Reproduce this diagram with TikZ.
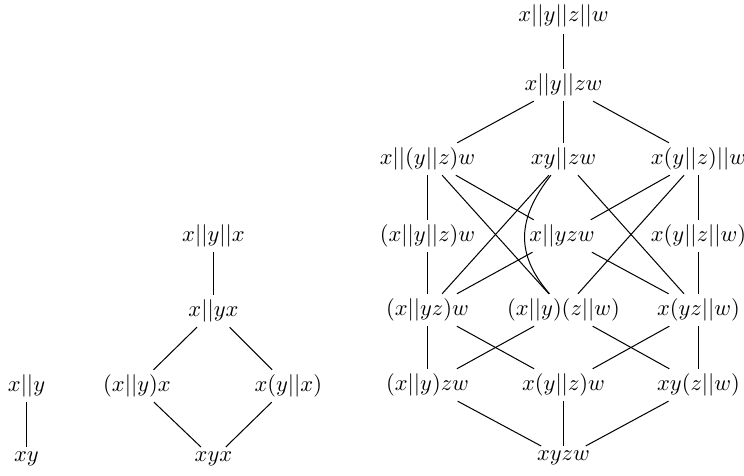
\documentclass[tikz,border=0pt]{standalone}
\usepackage{tikz}
\begin{document}
\begin{tikzpicture}[x=0.4444pt, y=-0.4444pt,
  lbl/.style={inner sep=2pt},
  edge/.style={line width=0.45pt}]
\useasboundingbox (0,0) rectangle (744,476);

% two-letter interval
\node[lbl] (a1) at (26.5,386) {$x||y$};
\node[lbl] (a2) at (26.5,459) {$xy$};
\draw[edge] (a1) -- (a2);

% three-letter word xyx
\node[lbl] (b1) at (213.5,236) {$x||y||x$};
\node[lbl] (b2) at (213.5,311) {$x||yx$};
\node[lbl] (b3) at (137,386) {$(x||y)x$};
\node[lbl] (b4) at (288.3,386) {$x(y||x)$};
\node[lbl] (b5) at (213.5,459) {$xyx$};
\draw[edge] (b1) -- (b2);
\draw[edge] (b2) -- (b3);
\draw[edge] (b2) -- (b4);
\draw[edge] (b3) -- (b5);
\draw[edge] (b4) -- (b5);

% four-letter word xyzw
\node[lbl, inner ysep=0pt] (r1) at (563.5,16) {$x||y||z||w$};
\node[lbl] (r2) at (563.5,85) {$x||y||zw$};
\node[lbl] (r3a) at (427.5,159) {$x||(y||z)w$};
\node[lbl] (r3b) at (563.5,159) {$xy||zw$};
\node[lbl] (r3c) at (698.5,159) {$x(y||z)||w$};
\node[lbl] (r4a) at (427.5,236) {$(x||y||z)w$};
\node[lbl] (r4b) at (562,236) {$x||yzw$};
\node[lbl] (r4c) at (698.5,236) {$x(y||z||w)$};
\node[lbl] (r5a) at (427.5,310) {$(x||yz)w$};
\node[lbl] (r5b) at (563.5,310) {$(x||y)(z||w)$};
\node[lbl] (r5c) at (698.5,310) {$x(yz||w)$};
\node[lbl] (r6a) at (427.5,385) {$(x||y)zw$};
\node[lbl] (r6b) at (563.5,385) {$x(y||z)w$};
\node[lbl] (r6c) at (698.5,385) {$xy(z||w)$};
\node[lbl] (r7) at (563.5,458) {$xyzw$};

\draw[edge, shorten <=3pt] (r1) -- (r2);
\draw[edge] (r2) -- (r3a);
\draw[edge] (r2) -- (r3b);
\draw[edge] (r2) -- (r3c);

\draw[edge] (r3a) -- (r4a);
\draw[edge] (r3a) -- (r4b);
\draw[edge] (r3a) -- (r5b);
\draw[edge] (r3b) -- (r5a);
\draw[edge] (r3b) .. controls (516,220) and (516,255) .. (r5b);
\draw[edge] (r3b) -- (r5c);
\draw[edge] (r3c) -- (r4b);
\draw[edge] (r3c) -- (r5b);
\draw[edge] (r3c) -- (r4c);

\draw[edge] (r4a) -- (r5a);
\draw[edge] (r4b) -- (r5a);
\draw[edge] (r4b) -- (r5c);
\draw[edge] (r4c) -- (r5c);

\draw[edge] (r5a) -- (r6a);
\draw[edge] (r5a) -- (r6b);
\draw[edge] (r5b) -- (r6a);
\draw[edge] (r5b) -- (r6c);
\draw[edge] (r5c) -- (r6b);
\draw[edge] (r5c) -- (r6c);

\draw[edge] (r6a) -- (r7);
\draw[edge] (r6b) -- (r7);
\draw[edge] (r6c) -- (r7);
\end{tikzpicture}
\end{document}
